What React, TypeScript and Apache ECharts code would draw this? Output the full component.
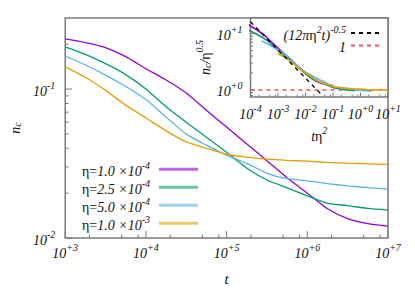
import React, { useEffect, useRef } from 'react';
import * as echarts from 'echarts';

// time points t
const T = [1e3, 1.78e3, 3.16e3, 5.62e3, 1e4, 1.78e4, 3.16e4, 5.62e4, 1e5, 1.78e5, 3.16e5, 5.62e5, 1e6, 1.78e6, 3.16e6, 5.62e6, 1e7];
// eta values
const ETA = [1.0e-4, 2.5e-4, 5.0e-4, 1.0e-3];
// n_c for each eta
const NC_A = [0.217, 0.205, 0.19, 0.165, 0.137, 0.115, 0.094, 0.0721, 0.0556, 0.0428, 0.033, 0.0254, 0.020, 0.0157, 0.0135, 0.0125, 0.0120];
const NC_B = [0.192, 0.171, 0.148, 0.125, 0.100, 0.076, 0.0598, 0.0474, 0.0376, 0.0294, 0.0245, 0.0217, 0.0192, 0.0171, 0.0165, 0.0158, 0.0154];
const NC_C = [0.1667, 0.145, 0.124, 0.104, 0.085, 0.0648, 0.0498, 0.042, 0.036, 0.0317, 0.0272, 0.025, 0.0242, 0.0232, 0.0224, 0.0218, 0.0213];
const NC_D = [0.141, 0.12, 0.098, 0.078, 0.064, 0.0524, 0.0442, 0.040, 0.0365, 0.0349, 0.0338, 0.0332, 0.0328, 0.0322, 0.0318, 0.0315, 0.0312];
const NC = [NC_A, NC_B, NC_C, NC_D];

const SERIES_NAMES = ['η=1.0×10^-4', 'η=2.5×10^-4', 'η=5.0×10^-4', 'η=1.0×10^-3'];
const MANT = ['1.0', '2.5', '5.0', '1.0'];
const EXPO = ['-4', '-4', '-4', '-3'];
const COLORS = ['#9400d3', '#009e73', '#56b4e9', '#e69f00'];

// inset reference lines
const THEORY_NAME = '(12πη²t)^-0.5';
const UNITY_NAME = '1';
const THEORY_X = [1e-4, 0.04];
const THEORY_Y = [16.3, 0.81];
const UNITY_X = [1e-4, 10];
const UNITY_Y = [1, 1];

// tick values
const MAIN_X_MAJOR = [1e3, 1e4, 1e5, 1e6, 1e7];
const MAIN_Y_MAJOR = [0.01, 0.1];
const MAIN_Y_MINOR = [0.02, 0.03, 0.04, 0.05, 0.06, 0.07, 0.08, 0.09, 0.2];
const INSET_X_MAJOR = [1e-4, 1e-3, 1e-2, 1e-1, 1, 10];
const INSET_Y_MAJOR = [1, 10];
const INSET_Y_MINOR = [0.8, 0.9, 2, 3, 4, 5, 6, 7, 8, 9];
const X_MINOR_MULT = [2, 5, 8];

const SERIF = '"Liberation Serif", "DejaVu Serif", serif';
const INK = '#111';
const BORDER = '#7a7a7a';

const rich = {
  b: { fontFamily: SERIF, fontStyle: 'italic', fontSize: 14, lineHeight: 18, verticalAlign: 'bottom', color: INK },
  u: { fontFamily: SERIF, fontSize: 14, lineHeight: 18, verticalAlign: 'bottom', color: INK },
  s: { fontFamily: SERIF, fontStyle: 'italic', fontSize: 10, lineHeight: 10, verticalAlign: 'top', color: INK },
  sub: { fontFamily: SERIF, fontStyle: 'italic', fontSize: 10, lineHeight: 8, verticalAlign: 'bottom', color: INK },
  g: { width: 4, fontSize: 14, lineHeight: 18 },
};

const powLabel = (v: number) => {
  const l = Math.log10(v);
  const e = Math.round(l);
  if (Math.abs(l - e) > 0.01) return '';
  return `{b|10}{s|${e >= 0 ? '+' : '-'}${Math.abs(e)}}`;
};

export default function App() {
  const ref = useRef<HTMLDivElement>(null);
  useEffect(() => {
    if (!ref.current) return;
    const chart = echarts.init(ref.current, undefined, { renderer: 'svg' });
    const mainSeries = NC.map((vals, i) => ({
      name: SERIES_NAMES[i],
      type: 'line',
      xAxisIndex: 0,
      yAxisIndex: 0,
      data: T.map((t, j) => [t, vals[j]]),
      symbol: 'none',
      smooth: 0.2,
      color: COLORS[i],
      lineStyle: { width: 1.3, color: COLORS[i] },
      z: 3,
    }));
    const insetSeries = NC.map((vals, i) => ({
      name: 'inset ' + SERIES_NAMES[i],
      type: 'line',
      xAxisIndex: 1,
      yAxisIndex: 1,
      data: T.map((t, j) => [ETA[i] * ETA[i] * t, vals[j] / Math.sqrt(ETA[i])]),
      symbol: 'none',
      smooth: 0.2,
      color: COLORS[i],
      lineStyle: { width: 1.6, color: COLORS[i] },
      z: 4,
    }));
    const option: any = {
      animation: false,
      grid: [
        { left: 64, top: 18, right: 27, bottom: 48.5, show: true, borderColor: BORDER, borderWidth: 1.5 },
        { left: 250.5, top: 18, width: 137.5, height: 79, show: true, borderColor: BORDER, borderWidth: 1.5, backgroundColor: '#fff' },
      ],
      xAxis: [
        {
          type: 'log', gridIndex: 0, min: 1e3, max: 1e7,
          axisLine: { show: false }, axisTick: { show: false }, splitLine: { show: false },
          axisLabel: { formatter: powLabel, margin: 4, rich },
          name: 't', nameLocation: 'middle', nameGap: 33,
          nameTextStyle: { fontFamily: SERIF, fontStyle: 'italic', fontSize: 15, color: INK },
        },
        {
          type: 'log', gridIndex: 1, min: 1e-4, max: 10,
          axisLine: { show: false }, axisTick: { show: false }, splitLine: { show: false },
          axisLabel: { formatter: powLabel, margin: 6, rich },
          name: '{b|t}{u|η}{s|2}', nameLocation: 'middle', nameGap: 28,
          nameTextStyle: { rich },
        },
      ],
      yAxis: [
        {
          type: 'log', gridIndex: 0, min: 0.01, max: 0.3,
          axisLine: { show: false }, axisTick: { show: false }, splitLine: { show: false },
          axisLabel: { formatter: powLabel, margin: 10, rich },
          name: '{b|n}{sub|c}', nameLocation: 'middle', nameGap: 40, nameRotate: 90,
          nameTextStyle: { rich },
        },
        {
          type: 'log', gridIndex: 1, min: 0.75, max: 19,
          axisLine: { show: false }, axisTick: { show: false }, splitLine: { show: false },
          axisLabel: { formatter: powLabel, margin: 8, rich },
          name: '{b|n}{sub|c}{b|/}{u|η}{s|0.5}', nameLocation: 'middle', nameGap: 33, nameRotate: 90,
          nameTextStyle: { rich },
        },
      ],
      legend: [
        {
          data: SERIES_NAMES.map((n) => ({ name: n, itemStyle: { opacity: 0.6 } })),
          orient: 'vertical', right: 217, top: 160.3, align: 'right', padding: 0,
          itemWidth: 39, itemHeight: 3, icon: 'rect', itemGap: 0, selectedMode: false,
          textStyle: { rich },
          formatter: (name: string) => {
            const i = SERIES_NAMES.indexOf(name);
            return `{u|η=}{b|${MANT[i]} ×10}{s|${EXPO[i]}}{g| }`;
          },
        },
        {
          data: [THEORY_NAME, UNITY_NAME],
          orient: 'vertical', right: 32, top: 24, align: 'right', padding: 0,
          itemWidth: 31, itemHeight: 14, itemGap: -2, selectedMode: false,
          itemStyle: { opacity: 0 },
          textStyle: { rich },
          formatter: (name: string) =>
            name === THEORY_NAME ? '{b|(12π}{u|η}{s|2}{b|t)}{s|-0.5}' : '{b|1}',
        },
      ],
      series: [
        ...mainSeries,
        {
          name: UNITY_NAME, type: 'line', xAxisIndex: 1, yAxisIndex: 1,
          data: UNITY_X.map((x, j) => [x, UNITY_Y[j]]), symbol: 'none', color: '#ee5555',
          lineStyle: { color: '#ee5555', width: 1.5, type: [4, 4] }, z: 3,
        },
        ...insetSeries,
        {
          name: THEORY_NAME, type: 'line', xAxisIndex: 1, yAxisIndex: 1,
          data: THEORY_X.map((x, j) => [x, THEORY_Y[j]]), symbol: 'none', color: '#000',
          lineStyle: { color: '#000', width: 1.3, type: [4, 4] }, z: 6,
        },
      ],
    };
    chart.setOption(option);

    // ticks drawn from axis scales
    const els: any[] = [];
    const px = (ax: string, idx: number, v: number) =>
      chart.convertToPixel({ [ax + 'AxisIndex']: idx } as any, v) as unknown as number;
    const addX = (idx: number, yVal: number, vals: number[], len: number) => {
      const yb = px('y', idx, yVal);
      vals.forEach((v) => {
        const x = px('x', idx, v);
        els.push({ type: 'line', shape: { x1: x, y1: yb, x2: x, y2: yb - len }, style: { stroke: BORDER, lineWidth: 1 }, z: 100 });
      });
    };
    const addY = (idx: number, xVal: number, vals: number[], len: number) => {
      const xl = px('x', idx, xVal);
      vals.forEach((v) => {
        const y = px('y', idx, v);
        els.push({ type: 'line', shape: { x1: xl, y1: y, x2: xl + len, y2: y }, style: { stroke: BORDER, lineWidth: 1 }, z: 100 });
      });
    };
    const minorOf = (majors: number[], max: number) => {
      const out: number[] = [];
      majors.forEach((m) => X_MINOR_MULT.forEach((k) => { if (m * k < max) out.push(m * k); }));
      return out;
    };
    addX(0, 0.01, MAIN_X_MAJOR, 7);
    addX(0, 0.01, minorOf(MAIN_X_MAJOR, 1e7), 3.5);
    addY(0, 1e3, MAIN_Y_MAJOR, 7);
    addY(0, 1e3, MAIN_Y_MINOR, 3.5);
    addX(1, 0.75, INSET_X_MAJOR, 4.5);
    addX(1, 0.75, minorOf(INSET_X_MAJOR, 10), 2.5);
    addY(1, 1e-4, INSET_Y_MAJOR, 4.5);
    addY(1, 1e-4, INSET_Y_MINOR, 2.5);
    chart.setOption({ graphic: { elements: els } });

    return () => chart.dispose();
  }, []);
  return (
    <div
      ref={ref}
      style={{ position: 'absolute', left: 0, top: 0, width: 415, height: 291, background: '#fff' }}
    />
  );
}
